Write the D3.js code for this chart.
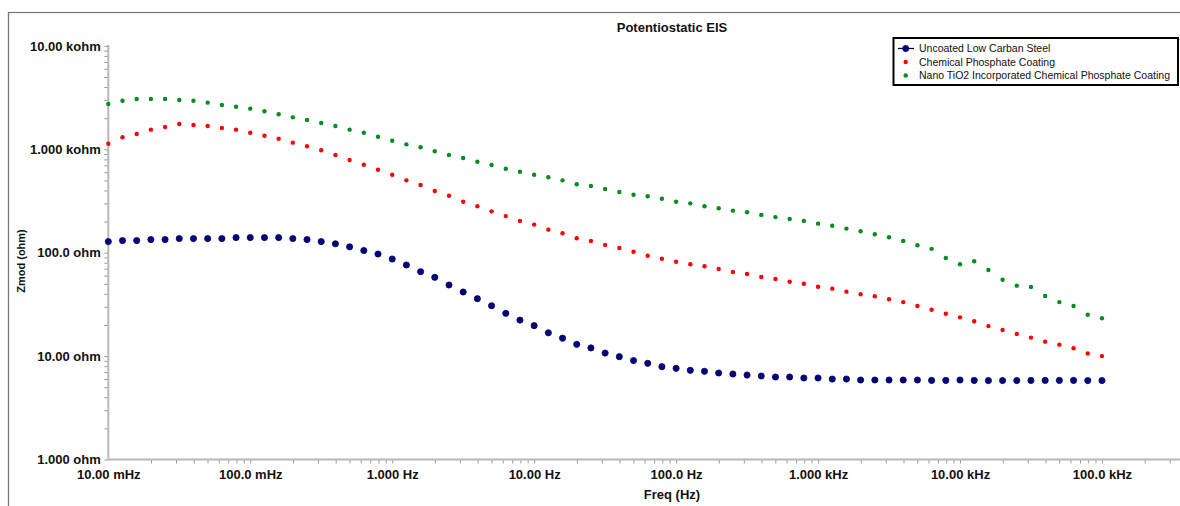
<!DOCTYPE html>
<html>
<head>
<meta charset="utf-8">
<script src="https://cdn.jsdelivr.net/npm/d3@7/dist/d3.min.js"></script>
<style>
  html, body { margin: 0; padding: 0; background: #fff; overflow: hidden; }
  svg { display: block; font-family: "Liberation Sans", Arial, sans-serif; }
</style>
</head>
<body>
<svg id="chart" width="1180" height="506"></svg>
<script>
// ---------------- DATA ----------------
const freqHz = [
  0.01, 0.01259, 0.01585, 0.01995, 0.02512, 0.03162, 0.03981, 0.05012, 0.0631, 0.07943,
  0.1, 0.1259, 0.1585, 0.1995, 0.2512, 0.3162, 0.3981, 0.5012, 0.631, 0.7943,
  1, 1.259, 1.585, 1.995, 2.512, 3.162, 3.981, 5.012, 6.31, 7.943,
  10, 12.59, 15.85, 19.95, 25.12, 31.62, 39.81, 50.12, 63.1, 79.43,
  100, 125.9, 158.5, 199.5, 251.2, 316.2, 398.1, 501.2, 631, 794.3,
  1000, 1259, 1585, 1995, 2512, 3162, 3981, 5012, 6310, 7943,
  10000, 12590, 15850, 19950, 25120, 31620, 39810, 50120, 63100, 79430,
  100000
];

// Zmod (ohm) – Uncoated Low Carban Steel
const zUncoated = [
  128, 131, 131, 134, 134, 137, 137, 137, 137, 140,
  140, 140, 140, 137, 134, 128, 122, 114, 105, 97.1,
  86.9, 76.0, 65.5, 57.8, 48.7, 41.7, 35.9, 30.7, 25.9, 22.3,
  19.7, 16.8, 14.9, 13.0, 12.0, 10.7, 9.87, 9.06, 8.51, 7.90,
  7.62, 7.29, 7.13, 6.86, 6.71, 6.56, 6.42, 6.28, 6.28, 6.14,
  6.14, 6.00, 6.00, 5.87, 5.87, 5.87, 5.87, 5.87, 5.82, 5.82,
  5.87, 5.82, 5.80, 5.80, 5.80, 5.82, 5.82, 5.82, 5.82, 5.80,
  5.80
];

// Zmod (ohm) – Chemical Phosphate Coating
const zPhosphate = [
  1132, 1306, 1406, 1549, 1643, 1757, 1718, 1680, 1607, 1549,
  1448, 1354, 1266, 1159, 1069, 978, 881, 788, 710, 635,
  568, 501, 452, 395, 356, 311, 281, 251, 226, 203,
  187, 167, 154, 138, 130, 119, 111, 102, 93.5, 87.5,
  81.8, 77.3, 73.9, 69.5, 65.0, 62.2, 58.2, 55.7, 52.4, 50.1,
  46.9, 44.9, 42.0, 39.6, 37.9, 35.5, 33.3, 30.5, 28.1, 25.7,
  23.7, 21.7, 19.5, 17.9, 16.4, 15.1, 13.8, 12.9, 11.9, 10.6,
  10.0
];

// Zmod (ohm) – Nano TiO2 Incorporated Chemical Phosphate Coating
const zNanoTiO2 = [
  2742, 2951, 3064, 3064, 3064, 2999, 2951, 2825, 2682, 2582,
  2472, 2331, 2179, 2038, 1919, 1795, 1680, 1549, 1448, 1324,
  1211, 1117, 1045, 957, 881, 824, 759, 705, 649, 607,
  568, 536, 501, 459, 442, 413, 386, 364, 351, 333,
  311, 300, 281, 269, 255, 246, 232, 221, 212, 203,
  191, 182, 171, 161, 151, 141, 130, 118, 109, 88.9,
  77.3, 82.6, 68.0, 54.8, 48.0, 46.6, 38.1, 33.3, 30.5, 25.1,
  23.2
];

const seriesNames = [
  "Uncoated Low Carban Steel",
  "Chemical Phosphate Coating",
  "Nano TiO2 Incorporated Chemical Phosphate Coating"
];

const xTickValues = [0.01, 0.1, 1, 10, 100, 1000, 10000, 100000];
const xTickLabels = ["10.00 mHz", "100.0 mHz", "1.000 Hz", "10.00 Hz", "100.0 Hz", "1.000 kHz", "10.00 kHz", "100.0 kHz"];
const yTickValues = [1, 10, 100, 1000, 10000];
const yTickLabels = ["1.000 ohm", "10.00 ohm", "100.0 ohm", "1.000 kohm", "10.00 kohm"];

const chartTitle = "Potentiostatic EIS";
const xTitle = "Freq (Hz)";
const yTitle = "Zmod (ohm)";

// ---------------- DRAW ----------------
const svg = d3.select("#chart");

const plotLeft = 108.3, plotRight = 1180, decadeX = 141.95;
const yBottom = 459.5, yTop = 45.9;

const x = d3.scaleLog().domain([0.01, 100000]).range([plotLeft, plotLeft + 7 * decadeX]);
const y = d3.scaleLog().domain([1, 10000]).range([yBottom, yTop]);
const xMax = x.invert(plotRight);

// outer frame (right and bottom edges lie outside the picture)
svg.append("rect")
  .attr("x", 8.5).attr("y", 12.5)
  .attr("width", 1180).attr("height", 510)
  .attr("fill", "none").attr("stroke", "#7a7a7a").attr("stroke-width", 1.3);

// title
svg.append("text")
  .attr("x", 672).attr("y", 31.5)
  .attr("text-anchor", "middle")
  .attr("font-size", 13).attr("font-weight", "bold").attr("fill", "#111")
  .text(chartTitle);

// minor tick values
function minorTicks(lo, hi) {
  const out = [];
  for (let e = Math.floor(Math.log10(lo)); e <= Math.ceil(Math.log10(hi)); e++) {
    for (let m = 1; m <= 9; m++) {
      const v = m * Math.pow(10, e);
      if (v >= lo * 0.999 && v <= hi * 1.001) out.push(v);
    }
  }
  return out;
}

const axisColor = "#b8b8b8";
const tickColor = "#9a9a9a";

// X axis - minor ticks
const gxMinor = svg.append("g").attr("transform", `translate(0,${yBottom})`)
  .call(d3.axisBottom(x).tickValues(minorTicks(0.0101, xMax)).tickSize(4).tickFormat(""));
gxMinor.select(".domain").remove();
gxMinor.selectAll(".tick line").attr("stroke", tickColor);

// X axis - labels
const gx = svg.append("g").attr("transform", `translate(0,${yBottom})`)
  .call(d3.axisBottom(x).tickValues(xTickValues).tickSize(0).tickPadding(10)
        .tickFormat((d, i) => xTickLabels[i]));
gx.select(".domain").remove();
gx.selectAll(".tick text").attr("font-size", 13).attr("font-weight", "bold")
  .attr("fill", "#111").attr("font-family", "Liberation Sans, Arial, sans-serif");

// Y axis - minor ticks
const gyMinor = svg.append("g").attr("transform", `translate(${plotLeft},0)`)
  .call(d3.axisLeft(y).tickValues(minorTicks(1, 10000)).tickSize(4).tickFormat(""));
gyMinor.select(".domain").remove();
gyMinor.selectAll(".tick line").attr("stroke", tickColor);

// Y axis - labels
const gy = svg.append("g").attr("transform", `translate(${plotLeft},0)`)
  .call(d3.axisLeft(y).tickValues(yTickValues).tickSize(0).tickPadding(7.5)
        .tickFormat((d, i) => yTickLabels[i]));
gy.select(".domain").remove();
gy.selectAll(".tick text").attr("font-size", 13).attr("font-weight", "bold")
  .attr("fill", "#111").attr("font-family", "Liberation Sans, Arial, sans-serif");

// axis lines
svg.append("line")
  .attr("x1", plotLeft).attr("x2", plotLeft)
  .attr("y1", y(10000) - 1).attr("y2", yBottom)
  .attr("stroke", axisColor).attr("stroke-width", 2);
svg.append("line")
  .attr("x1", plotLeft).attr("x2", x(xMax))
  .attr("y1", yBottom).attr("y2", yBottom)
  .attr("stroke", axisColor).attr("stroke-width", 2);

// axis titles
svg.append("text")
  .attr("x", 672).attr("y", 498.5)
  .attr("text-anchor", "middle")
  .attr("font-size", 13).attr("font-weight", "bold").attr("fill", "#111")
  .text(xTitle);
svg.append("text")
  .attr("transform", `translate(24.5,261) rotate(-90)`)
  .attr("text-anchor", "middle")
  .attr("font-size", 11).attr("font-weight", "bold").attr("fill", "#111")
  .text(yTitle);

// data series
const series = [
  { name: seriesNames[0], values: zUncoated, fill: "#00008f", stroke: "#0a0a30", r: 3.1, sw: 0.8 },
  { name: seriesNames[1], values: zPhosphate, fill: "#ff0000", stroke: "none", r: 2.2, sw: 0 },
  { name: seriesNames[2], values: zNanoTiO2, fill: "#008c1e", stroke: "none", r: 2.2, sw: 0 }
];

series.forEach(s => {
  svg.append("g").selectAll("circle")
    .data(freqHz.map((f, i) => ({ f, z: s.values[i] })))
    .join("circle")
    .attr("cx", d => x(d.f))
    .attr("cy", d => y(d.z))
    .attr("r", s.r)
    .attr("fill", s.fill)
    .attr("stroke", s.stroke)
    .attr("stroke-width", s.sw);
});

// legend
const lg = svg.append("g");
lg.append("rect")
  .attr("x", 893.5).attr("y", 38).attr("width", 284.5).attr("height", 47)
  .attr("fill", "#fff").attr("stroke", "#000").attr("stroke-width", 2);
const legendY = [48.5, 62, 75.5];
series.forEach((s, i) => {
  if (i === 0) {
    lg.append("line").attr("x1", 898).attr("x2", 914)
      .attr("y1", legendY[i]).attr("y2", legendY[i])
      .attr("stroke", "#000030").attr("stroke-width", 1.3);
  }
  lg.append("circle").attr("cx", 905.7).attr("cy", legendY[i])
    .attr("r", s.r).attr("fill", s.fill).attr("stroke", s.stroke).attr("stroke-width", s.sw);
  lg.append("text").attr("x", 919).attr("y", legendY[i] + 3.8)
    .attr("font-size", 10.5).attr("fill", "#111")
    .text(s.name);
});
</script>
</body>
</html>
